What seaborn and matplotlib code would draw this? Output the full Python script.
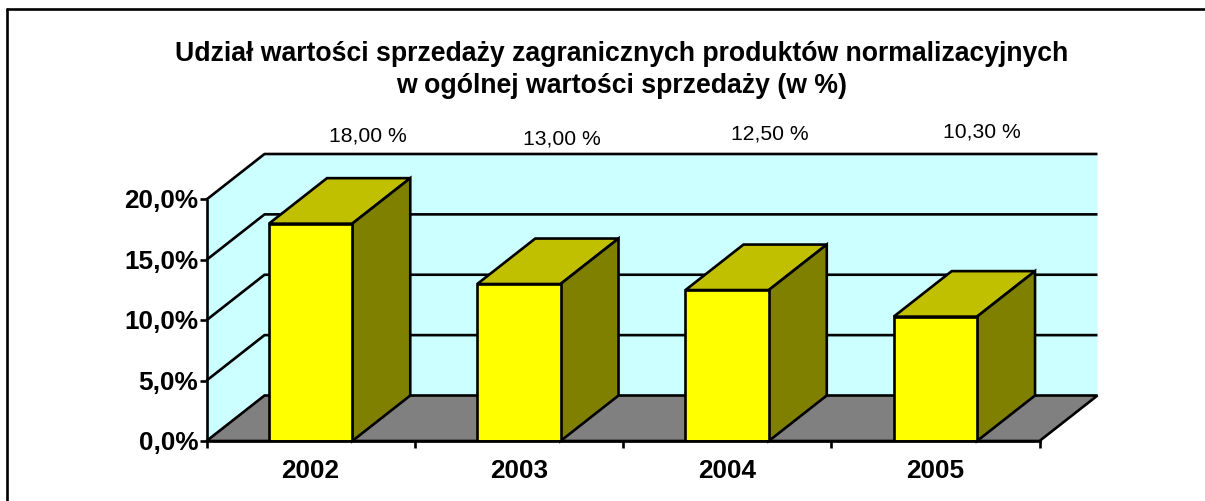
import matplotlib
matplotlib.use("Agg")
import matplotlib.pyplot as plt
from matplotlib.lines import Line2D
from matplotlib.patches import Polygon
from matplotlib.transforms import ScaledTranslation
import pandas as pd
import seaborn as sns

years = ["2002", "2003", "2004", "2005"]
shares = [18.0, 13.0, 12.5, 10.3]
share_labels = ["18,00 %", "13,00 %", "12,50 %", "10,30 %"]
y_ticks = [0, 5, 10, 15, 20]
y_tick_labels = ["0,0%", "5,0%", "10,0%", "15,0%", "20,0%"]
title_lines = ["Udział wartości sprzedaży zagranicznych produktów normalizacyjnych",
               "w ogólnej wartości sprzedaży (w %)"]

W, H = 1205, 502
sns.set_style("white")
plt.rcParams["font.family"] = ["Liberation Sans", "DejaVu Sans"]
plt.rcParams["text.color"] = "black"
plt.rcParams["xtick.color"] = "black"
plt.rcParams["ytick.color"] = "black"
plt.rcParams["xtick.labelcolor"] = "black"
plt.rcParams["ytick.labelcolor"] = "black"

fig = plt.figure(figsize=(W / 100, H / 100), dpi=100, facecolor="white")
L, R, T, B = 206.5, 1039.5, 200.5, 442
ax = fig.add_axes([L / W, 1 - B / H, (R - L) / W, (B - T) / H])
ax.patch.set_visible(False)

df = pd.DataFrame({"year": years, "share": shares})
LW = 1.9
bar_w = 0.4
sns.barplot(data=df, x="year", y="share", color="#FFFF00", saturation=1, width=bar_w,
            edgecolor="black", linewidth=LW, zorder=6, ax=ax)
ax.set_xlim(-0.5, 3.5)
ax.set_ylim(0, 20)

# depth of the 3-D projection, in data units
dx = 58 / ((R - L) / 4)
dy = 45.5 / ((B - T) / 20)
x0, x1 = -0.5, 3.5
ymax = y_ticks[-1]

def poly(points, fc, z, ec="black", lw=LW):
    ax.add_patch(Polygon(points, closed=True, facecolor=fc, edgecolor=ec, linewidth=lw,
                         joinstyle="miter", clip_on=False, zorder=z))

def line(xs, ys, z=3):
    ax.add_line(Line2D(xs, ys, color="black", lw=LW, clip_on=False, zorder=z,
                       solid_capstyle="butt"))

# side wall and back wall as one surface
poly([(x0, 0), (x0 + dx, dy), (x1 + dx, dy), (x1 + dx, ymax + dy), (x0 + dx, ymax + dy), (x0, ymax)],
     "#CCFFFF", 1, ec="none", lw=0)
for v in y_ticks[1:]:
    line([x0, x0 + dx, x1 + dx], [v, v + dy, v + dy])
line([x0, x0], [0, ymax])
# floor
poly([(x0, 0), (x1, 0), (x1 + dx, dy), (x0 + dx, dy)], "#808080", 4)

# bar top and side faces
for i, v in enumerate(shares):
    a, b = i - bar_w / 2, i + bar_w / 2
    poly([(a, v), (b, v), (b + dx, v + dy), (a + dx, v + dy)], "#C0C000", 5)
    poly([(b, 0), (b + dx, dy), (b + dx, v + dy), (b, v)], "#808000", 5)

# axes
sns.despine(ax=ax, top=True, right=True, left=True, bottom=False)
ax.spines["bottom"].set_linewidth(LW)
ax.spines["bottom"].set_color("black")
ax.spines["bottom"].set_zorder(7)
ax.set_xlabel("")
ax.set_ylabel("")
ax.set_yticks(y_ticks)
ax.set_yticklabels(y_tick_labels, fontsize=18.8, fontweight="bold")
ax.set_xticks(range(len(years)))
ax.set_xticklabels(years, fontsize=18.8, fontweight="bold")
ax.set_xticks([i - 0.5 for i in range(len(years) + 1)], minor=True)
ax.tick_params(axis="x", which="major", length=0, pad=12, bottom=True)
ax.tick_params(axis="x", which="minor", length=5, width=LW, color="black", bottom=True)
ax.tick_params(axis="y", which="major", length=5, width=LW, color="black", pad=1, left=True)
shift_up = ScaledTranslation(0, 1.5 / 100, fig.dpi_scale_trans)
for lab in ax.get_yticklabels():
    lab.set_transform(lab.get_transform() + shift_up)

# title
for txt, y in zip(title_lines, (54, 86)):
    fig.text(621.5 / W, 1 - y / H, txt, ha="center", va="center", fontsize=19.2, fontweight="bold", color="black")

# floating value labels (px anchor of each label)
label_anchor_x = [367.5, 561.5, 769.5, 981.5]
label_anchor_y = [136, 139, 134, 132]
for txt, px, py in zip(share_labels, label_anchor_x, label_anchor_y):
    fig.text(px / W, 1 - py / H, txt, ha="center", va="center", fontsize=15.2, color="black")

# frame: top and left edges only
fig.add_artist(Line2D([7.5 / W, 1], [1 - 9.5 / H, 1 - 9.5 / H], color="black", lw=LW, transform=fig.transFigure))
fig.add_artist(Line2D([7.5 / W, 7.5 / W], [0, 1 - 9.5 / H], color="black", lw=LW, transform=fig.transFigure))

fig.savefig("out.png", dpi=100, facecolor="white")
